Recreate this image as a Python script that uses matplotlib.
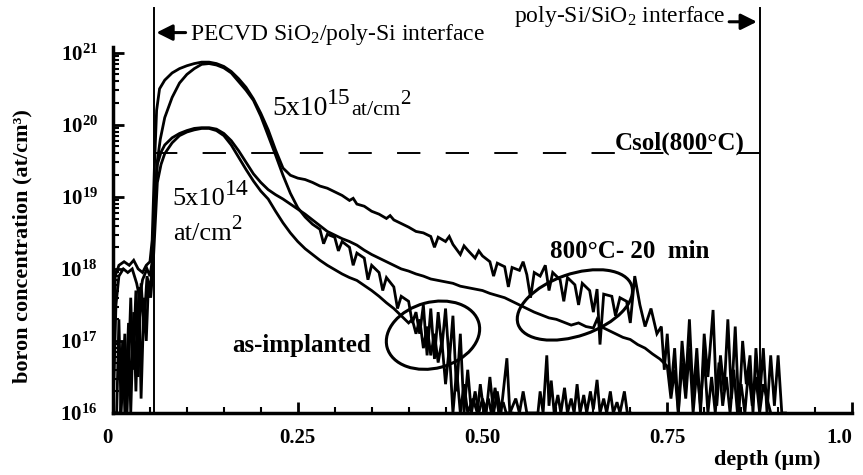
import numpy as np
import matplotlib
matplotlib.use('Agg')
import matplotlib.pyplot as plt
from matplotlib.patches import Ellipse
from matplotlib.ticker import FixedLocator, MultipleLocator, NullFormatter, FuncFormatter, LogLocator

# --- SIMS profiles: (depth um, log10 boron at/cm3) ---
impl_5e15 = [
    (0.000, 16.0), (0.005, 16.0), (0.008, 17.3), (0.011, 16.0), (0.016, 17.1), (0.019, 16.0),
    (0.024, 17.6), (0.027, 16.6), (0.031, 17.7), (0.034, 16.5), (0.038, 17.8), (0.042, 17.2),
    (0.046, 17.9), (0.050, 17.7), (0.053, 18.0), (0.056, 18.8), (0.060, 19.5), (0.064, 19.8),
    (0.070, 20.1), (0.080, 20.38), (0.090, 20.58), (0.100, 20.70), (0.110, 20.78), (0.120, 20.84),
    (0.130, 20.85), (0.140, 20.83), (0.150, 20.79), (0.160, 20.72), (0.170, 20.60), (0.180, 20.48),
    (0.190, 20.34), (0.200, 20.12), (0.210, 19.85), (0.220, 19.58), (0.230, 19.30), (0.240, 19.05),
    (0.250, 18.85), (0.260, 18.72), (0.270, 18.62), (0.280, 18.55), (0.285, 18.35), (0.290, 18.48),
    (0.300, 18.44), (0.305, 18.25), (0.310, 18.38), (0.320, 18.30), (0.325, 18.05), (0.330, 18.22),
    (0.340, 18.15), (0.345, 17.85), (0.350, 18.05), (0.360, 17.95), (0.365, 17.70), (0.370, 17.88),
    (0.380, 17.75), (0.385, 17.45), (0.390, 17.62), (0.400, 17.55), (0.405, 17.25), (0.410, 17.40),
    (0.415, 17.10), (0.420, 17.50), (0.425, 16.80), (0.430, 17.45), (0.435, 16.75), (0.440, 17.40),
    (0.445, 16.90), (0.450, 17.45), (0.455, 16.70), (0.460, 17.35), (0.465, 16.30), (0.470, 17.10),
    (0.475, 16.00), (0.480, 16.60), (0.485, 16.00), (0.490, 16.30), (0.495, 16.00), (0.500, 16.20),
    (0.505, 16.00), (0.510, 16.50), (0.515, 16.00), (0.520, 16.30), (0.525, 16.00), (0.533, 16.76),
    (0.537, 16.00), (0.545, 16.20), (0.550, 16.00), (0.555, 16.30), (0.560, 16.00), (0.575, 16.00),
    (0.578, 16.30), (0.582, 16.00), (0.587, 16.80), (0.590, 16.10), (0.593, 16.45), (0.597, 16.00),
    (0.602, 16.25), (0.606, 16.00), (0.611, 16.35), (0.615, 16.00), (0.620, 16.20), (0.624, 16.00),
    (0.628, 16.40), (0.632, 16.00), (0.637, 16.25), (0.641, 16.00), (0.646, 16.30), (0.650, 16.05),
    (0.655, 16.46), (0.659, 16.00), (0.664, 16.20), (0.668, 16.00), (0.673, 16.30), (0.677, 16.00),
    (0.682, 16.15), (0.686, 16.00), (0.692, 16.30), (0.696, 16.00), (0.700, 16.00),
]

anneal_5e15 = [
    (0.000, 16.0), (0.003, 17.9), (0.008, 18.05), (0.015, 18.1), (0.022, 18.05), (0.028, 18.12),
    (0.034, 18.0), (0.040, 17.95), (0.045, 18.05), (0.050, 18.1), (0.053, 18.4), (0.056, 19.4),
    (0.059, 20.2), (0.063, 20.5), (0.070, 20.62), (0.080, 20.72), (0.090, 20.78), (0.100, 20.82),
    (0.110, 20.85), (0.120, 20.87), (0.130, 20.87), (0.140, 20.85), (0.150, 20.81), (0.160, 20.74),
    (0.170, 20.64), (0.180, 20.52), (0.190, 20.36), (0.200, 20.16), (0.210, 19.93), (0.220, 19.65),
    (0.230, 19.40), (0.240, 19.30), (0.250, 19.26), (0.260, 19.24), (0.270, 19.20), (0.280, 19.15),
    (0.290, 19.12), (0.300, 19.07), (0.310, 19.02), (0.320, 18.95), (0.325, 18.98), (0.330, 18.90),
    (0.340, 18.87), (0.350, 18.80), (0.360, 18.76), (0.370, 18.70), (0.375, 18.74), (0.380, 18.68),
    (0.390, 18.63), (0.400, 18.58), (0.410, 18.52), (0.420, 18.50), (0.430, 18.45), (0.435, 18.30),
    (0.440, 18.44), (0.450, 18.38), (0.455, 18.45), (0.460, 18.34), (0.470, 18.20), (0.475, 18.32),
    (0.480, 18.26), (0.490, 18.15), (0.495, 18.25), (0.500, 18.18), (0.510, 18.10), (0.515, 17.90),
    (0.520, 18.08), (0.530, 18.03), (0.535, 17.75), (0.540, 18.02), (0.550, 17.98), (0.555, 18.10),
    (0.560, 17.92), (0.565, 17.60), (0.570, 17.95), (0.578, 17.90), (0.585, 18.05), (0.590, 17.70),
    (0.595, 17.95), (0.605, 17.85), (0.610, 17.55), (0.615, 17.88), (0.625, 17.78), (0.630, 17.50),
    (0.635, 17.80), (0.645, 17.70), (0.650, 17.40), (0.655, 17.72), (0.659, 16.95), (0.664, 17.65),
    (0.675, 17.62), (0.680, 17.35), (0.686, 17.60), (0.695, 17.55), (0.700, 17.25), (0.706, 17.90),
    (0.713, 17.50), (0.720, 17.20), (0.728, 17.45), (0.736, 17.10), (0.742, 17.20), (0.746, 16.60),
    (0.750, 17.10), (0.755, 16.30), (0.760, 16.90), (0.765, 16.00), (0.770, 17.00), (0.775, 16.40),
    (0.780, 17.30), (0.785, 16.20), (0.790, 16.90), (0.795, 16.00), (0.800, 17.10), (0.805, 16.50),
    (0.812, 17.43), (0.817, 16.10), (0.822, 16.80), (0.827, 16.30), (0.832, 17.30), (0.837, 16.20),
    (0.842, 17.20), (0.847, 16.00), (0.852, 17.00), (0.857, 16.40), (0.862, 16.80), (0.866, 16.00),
    (0.870, 16.90), (0.875, 16.20), (0.880, 16.90), (0.885, 16.00), (0.890, 16.80), (0.895, 16.10),
    (0.900, 16.80), (0.905, 16.00), (0.910, 16.00),
]

impl_5e14 = [
    (0.000, 16.0), (0.010, 16.0), (0.013, 17.0), (0.016, 16.0), (0.021, 17.25), (0.024, 16.0),
    (0.028, 17.4), (0.031, 16.3), (0.035, 17.75), (0.038, 16.2), (0.042, 17.6), (0.045, 17.0),
    (0.048, 17.8), (0.051, 17.6), (0.054, 18.0), (0.057, 18.6), (0.060, 19.2), (0.065, 19.45),
    (0.070, 19.60), (0.080, 19.75), (0.090, 19.85), (0.100, 19.90), (0.110, 19.93), (0.120, 19.95),
    (0.130, 19.95), (0.140, 19.92), (0.150, 19.85), (0.160, 19.72), (0.170, 19.55), (0.180, 19.38),
    (0.190, 19.22), (0.200, 19.08), (0.210, 18.97), (0.220, 18.80), (0.230, 18.64), (0.240, 18.50),
    (0.250, 18.38), (0.260, 18.28), (0.270, 18.20), (0.280, 18.12), (0.290, 18.05), (0.300, 17.99),
    (0.310, 17.93), (0.320, 17.88), (0.330, 17.84), (0.340, 17.77), (0.350, 17.70), (0.360, 17.62),
    (0.370, 17.53), (0.380, 17.45), (0.390, 17.35), (0.400, 17.25), (0.405, 17.30), (0.410, 17.10),
    (0.415, 17.30), (0.420, 16.90), (0.425, 17.20), (0.430, 16.80), (0.435, 17.10), (0.440, 16.70),
    (0.445, 17.00), (0.450, 16.40), (0.455, 16.90), (0.460, 16.00), (0.465, 16.60), (0.470, 16.00),
    (0.475, 16.40), (0.480, 16.00), (0.487, 16.20), (0.493, 16.00), (0.497, 16.40), (0.502, 16.00),
    (0.508, 16.20), (0.512, 16.00), (0.517, 16.35), (0.522, 16.00), (0.528, 16.15), (0.532, 16.00),
    (0.540, 16.00),
]

anneal_5e14 = [
    (0.000, 16.0), (0.004, 17.5), (0.008, 17.9), (0.014, 18.0), (0.020, 17.95), (0.026, 18.0),
    (0.032, 17.8), (0.036, 17.6), (0.040, 17.85), (0.046, 18.0), (0.050, 17.9), (0.053, 18.1),
    (0.056, 19.0), (0.060, 19.45), (0.065, 19.62), (0.070, 19.72), (0.080, 19.82), (0.090, 19.88),
    (0.100, 19.92), (0.110, 19.95), (0.120, 19.96), (0.130, 19.96), (0.140, 19.94), (0.150, 19.88),
    (0.160, 19.78), (0.170, 19.64), (0.180, 19.48), (0.190, 19.32), (0.200, 19.20), (0.210, 19.10),
    (0.220, 19.03), (0.230, 18.97), (0.240, 18.90), (0.250, 18.83), (0.260, 18.76), (0.270, 18.68),
    (0.280, 18.60), (0.290, 18.52), (0.300, 18.47), (0.310, 18.42), (0.320, 18.38), (0.330, 18.33),
    (0.340, 18.26), (0.350, 18.20), (0.360, 18.15), (0.370, 18.10), (0.380, 18.05), (0.390, 18.00),
    (0.400, 17.97), (0.410, 17.93), (0.420, 17.90), (0.430, 17.86), (0.440, 17.84), (0.450, 17.82),
    (0.460, 17.80), (0.470, 17.76), (0.480, 17.74), (0.490, 17.72), (0.500, 17.70), (0.510, 17.66),
    (0.520, 17.63), (0.530, 17.60), (0.540, 17.55), (0.550, 17.50), (0.560, 17.45), (0.570, 17.40),
    (0.580, 17.36), (0.590, 17.32), (0.600, 17.30), (0.610, 17.26), (0.620, 17.22), (0.630, 17.25),
    (0.640, 17.20), (0.650, 17.18), (0.655, 17.30), (0.660, 17.20), (0.670, 17.15), (0.680, 17.10),
    (0.690, 17.05), (0.700, 17.02), (0.710, 16.95), (0.720, 16.90), (0.730, 16.82), (0.740, 16.75),
    (0.750, 16.65), (0.755, 16.20), (0.760, 16.60), (0.765, 16.00), (0.770, 16.70), (0.775, 16.20),
    (0.780, 16.90), (0.785, 16.00), (0.790, 16.60), (0.795, 16.10), (0.800, 16.80), (0.805, 16.00),
    (0.810, 16.50), (0.815, 16.00), (0.820, 16.70), (0.825, 16.10), (0.830, 16.50), (0.835, 16.00),
    (0.840, 16.60), (0.845, 16.00), (0.850, 16.40), (0.855, 16.00), (0.860, 16.60), (0.865, 16.10),
    (0.870, 16.50), (0.875, 16.00), (0.880, 16.40), (0.890, 16.00),
]

profiles = [impl_5e15, anneal_5e15, impl_5e14, anneal_5e14]

interface_depths = [0.055, 0.875]   # PECVD SiO2/poly-Si and poly-Si/SiO2
csol_800 = 4.1e19                    # solid solubility at 800 C

x_ticks = [0, 0.25, 0.50, 0.75, 1.0]
x_ticklabels = ['0', '0.25', '0.50', '0.75', '1.0']
y_decades = [16, 17, 18, 19, 20, 21]

SERIF = 'Liberation Serif'
plt.rcParams['font.family'] = SERIF
plt.rcParams['mathtext.fontset'] = 'custom'
plt.rcParams['mathtext.rm'] = SERIF
plt.rcParams['mathtext.bf'] = SERIF + ':bold'
plt.rcParams['mathtext.it'] = SERIF + ':italic'


def lg(e):
    return 10.0 ** e


W, H = 863, 475
fig = plt.figure(figsize=(W / 100, H / 100), dpi=100)
ax = fig.add_axes([113 / W, 1 - 413 / H, (852 - 113) / W, (413 - 47) / H])

for prof in profiles:
    d, c = np.array(prof).T
    ax.plot(d, lg(c), color='black', lw=2.0, solid_joinstyle='miter')

ax.set_yscale('log')
ax.set_xlim(0, 1.0)
ax.set_ylim(lg(16), lg(21.08))

# interface lines run above the plot frame
for xd in interface_depths:
    ax.plot([xd, xd], [lg(16), lg(21.62)], color='black', lw=1.4, clip_on=False)

ln, = ax.plot(interface_depths, [csol_800, csol_800], color='black', lw=1.4)
ln.set_dashes((12, 13))

# axes styling
for s in ['top', 'right']:
    ax.spines[s].set_visible(False)
for s in ['left', 'bottom']:
    ax.spines[s].set_linewidth(2.5)

ax.set_xticks(x_ticks)
ax.set_xticklabels(x_ticklabels)
ax.xaxis.set_minor_locator(MultipleLocator(0.05))
ax.yaxis.set_major_locator(FixedLocator([lg(e) for e in y_decades]))
ax.yaxis.set_minor_locator(LogLocator(base=10, subs=np.arange(2, 10)))
ax.yaxis.set_minor_formatter(NullFormatter())
ax.yaxis.set_major_formatter(FuncFormatter(lambda v, p: r'$\mathbf{10^{%d}}$' % round(np.log10(v))))

ax.tick_params(which='major', direction='in', length=8, width=2, labelsize=15)
ax.tick_params(which='minor', direction='in', length=4.5, width=1.5)
ax.tick_params(axis='y', which='major', pad=11)
ax.tick_params(axis='x', which='major', pad=11)
xlabs = ax.get_xticklabels()
for lab in xlabs:
    lab.set_fontweight('bold')
xlabs[0].set_horizontalalignment('right')
xlabs[-1].set_horizontalalignment('right')

fig.text(22 / W, 1 - 246 / H, 'boron concentration (at/cm³)', rotation=90,
         ha='center', va='center', fontsize=16, fontweight='bold')
fig.text(767 / W, 1 - 460 / H, 'depth (µm)', ha='center', va='center',
         fontsize=16, fontweight='bold')

# interface annotations with arrows
ax.annotate('', xy=(interface_depths[0], lg(21.28)), xytext=(0.102, lg(21.28)),
            arrowprops=dict(arrowstyle='-|>', color='black', lw=2.2, mutation_scale=24),
            annotation_clip=False)
ax.text(0.104, lg(21.18), r'PECVD SiO$_2$/poly-Si interface', fontsize=17,
        ha='left', va='baseline', clip_on=False)
ax.annotate('', xy=(interface_depths[1], lg(21.43)), xytext=(0.830, lg(21.43)),
            arrowprops=dict(arrowstyle='-|>', color='black', lw=2.2, mutation_scale=24),
            annotation_clip=False)
ax.text(0.829, lg(21.43), r'poly-Si/SiO$_2$ interface', fontsize=17,
        ha='right', va='baseline', clip_on=False)

# dose labels (base text, raised exponent, then baseline unit)
base1 = lg(20.14)
t1 = ax.text(0.215, base1, '5x10', fontsize=20, ha='left', va='baseline')
t2 = ax.annotate('15', xy=(1, 0.45), xycoords=t1, fontsize=17, ha='left', va='bottom')
t3 = ax.annotate('at/cm', xy=(1, base1), xycoords=(t2, 'data'), fontsize=16,
                 ha='left', va='baseline')
ax.annotate('2', xy=(1, 0.55), xycoords=t3, fontsize=15, ha='left', va='bottom')

t4 = ax.text(0.080, lg(18.89), '5x10', fontsize=19, ha='left', va='baseline')
ax.annotate('14', xy=(1, 0.45), xycoords=t4, fontsize=17, ha='left', va='bottom')
t5 = ax.text(0.081, lg(18.40), 'at/cm', fontsize=19, ha='left', va='baseline')
ax.annotate('2', xy=(1, 0.5), xycoords=t5, fontsize=15, ha='left', va='bottom')

ax.text(0.855, lg(19.66), 'Csol(800°C)', fontsize=18, fontweight='bold', ha='right', va='baseline')
ax.text(0.591, lg(18.15), '800°C- 20  min', fontsize=18, fontweight='bold', ha='left', va='baseline')
ax.text(0.161, lg(16.85), 'as-implanted', fontsize=18, fontweight='bold', ha='left', va='baseline')

# ellipses drawn in screen units so they stay round on the log axis
ellipses = [((0.433, 17.08), 95, 66, 15), ((0.625, 17.50), 120, 62, 19)]
for (ex, ey), w, h, ang in ellipses:
    cx, cy = ax.transData.transform((ex, lg(ey))) / fig.dpi
    ax.add_patch(Ellipse((cx, cy), w / fig.dpi, h / fig.dpi, angle=ang, fill=False,
                         lw=2.2, ec='black', transform=fig.dpi_scale_trans))

fig.savefig('out.png', dpi=100)
